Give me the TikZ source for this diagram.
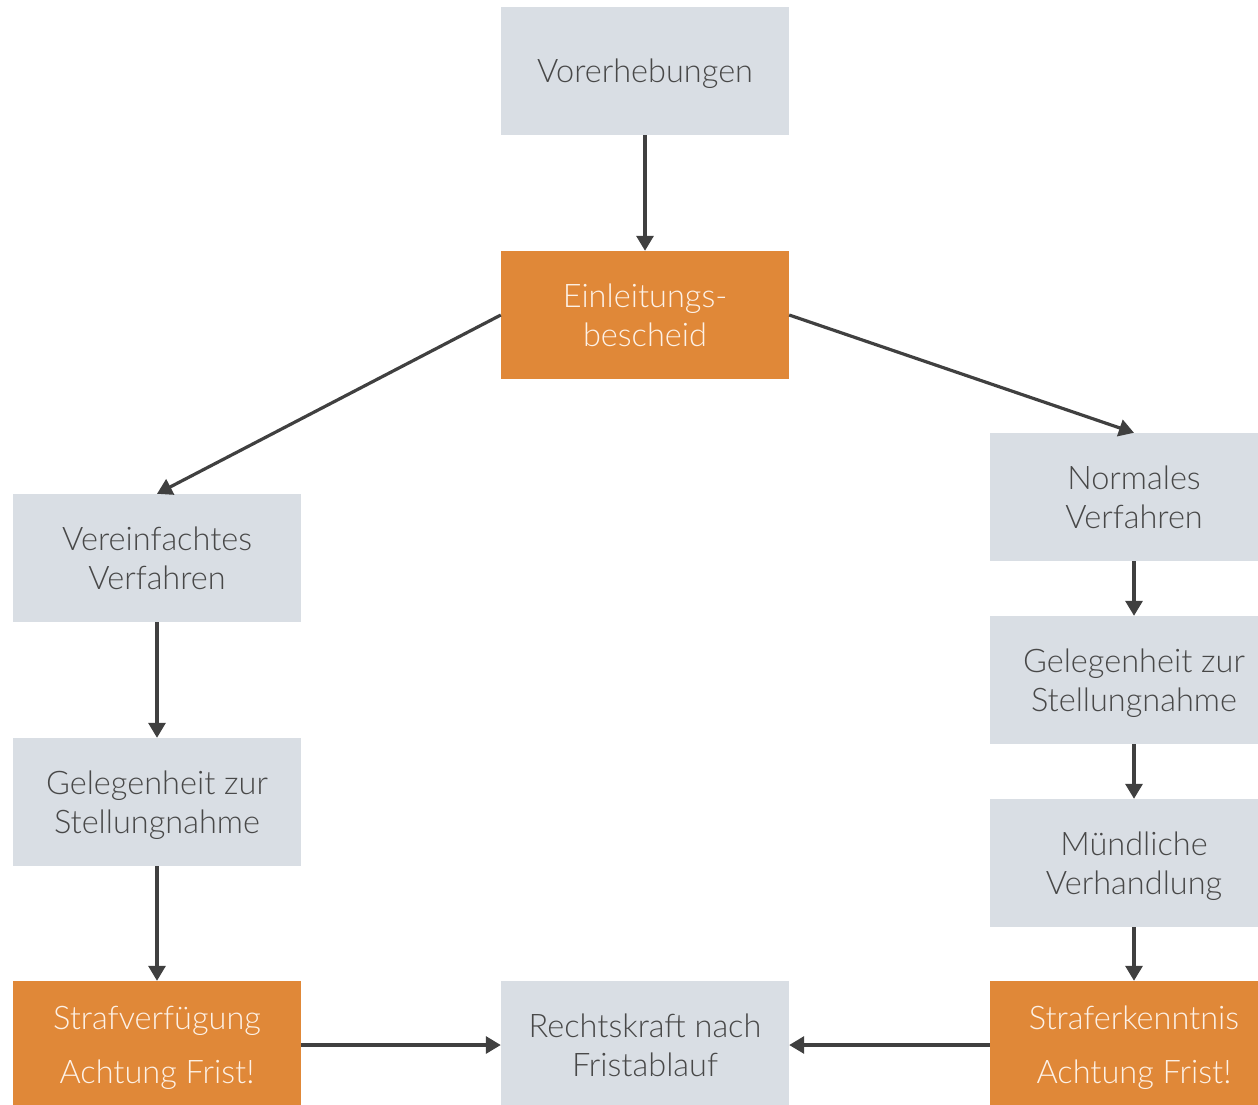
\documentclass[tikz,border=0pt]{standalone}
\usepackage{fontspec}
\setmainfont{Lato}[UprightFont=* Light]
\usetikzlibrary{arrows.meta}
\definecolor{boxgray}{HTML}{D9DEE4}
\definecolor{boxorange}{HTML}{E08838}
\definecolor{txtgray}{HTML}{484848}
\definecolor{arrowgray}{HTML}{404040}
\definecolor{txtlight}{HTML}{FDF1E6}
\tikzset{
  graybox/.style={fill=boxgray, minimum width=288pt, minimum height=128pt, inner sep=0pt,
    text=txtgray, align=center, text depth=0pt, font=\fontsize{32.5}{39}\selectfont},
  orangebox/.style={graybox, fill=boxorange, text=txtlight},
  widelines/.style={font=\fontsize{32.5}{54}\selectfont},
  conn/.style={draw=arrowgray, line width=3.2pt, -{Triangle[length=15pt,width=17pt]}}
}
\begin{document}
\begin{tikzpicture}[x=1pt,y=-1pt]
\useasboundingbox (0,0) rectangle (1258,1104);
\begin{scope}
\clip (0,0) rectangle (1258,1104);
\node[graybox] (vor) at (645,71) {Vorerhebungen};
\node[orangebox] (ein) at (645,315) {Einleitungs-\\bescheid};
\node[graybox] (norm) at (1134,497) {Normales\\Verfahren};
\node[graybox] (vereinf) at (157,558) {Vereinfachtes\\Verfahren};
\node[graybox] (gell) at (157,802) {Gelegenheit zur\\Stellungnahme};
\node[graybox] (gelr) at (1134,680) {Gelegenheit zur\\Stellungnahme};
\node[graybox] (muend) at (1134,863) {Mündliche\\Verhandlung};
\node[orangebox, widelines] (strafv) at (157,1045) {Strafverfügung\\Achtung Frist!};
\node[graybox] (recht) at (645,1045) {Rechtskraft nach\\Fristablauf};
\node[orangebox, widelines] (strafe) at (1134,1045) {Straferkenntnis\\Achtung Frist!};
\end{scope}
\draw[conn] (vor.south) -- (ein.north);
\draw[conn] (ein.west) -- (vereinf.north);
\draw[conn] (ein.east) -- (norm.north);
\draw[conn] (vereinf.south) -- (gell.north);
\draw[conn] (gell.south) -- (strafv.north);
\draw[conn] (norm.south) -- (gelr.north);
\draw[conn] (gelr.south) -- (muend.north);
\draw[conn] (muend.south) -- (strafe.north);
\draw[conn] (strafv.east) -- (recht.west);
\draw[conn] (strafe.west) -- (recht.east);
\end{tikzpicture}
\end{document}
